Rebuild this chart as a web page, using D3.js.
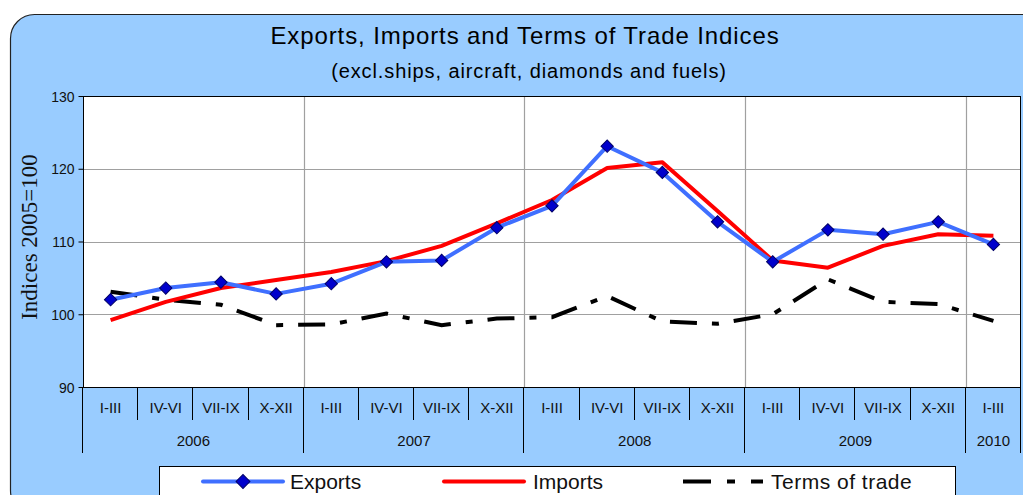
<!DOCTYPE html>
<html>
<head>
<meta charset="utf-8">
<script src="https://cdn.jsdelivr.net/npm/d3@7"></script>
<style>
  body { margin: 0; background: #fff; }
  svg text { font-family: "Liberation Sans", Arial, sans-serif; }
</style>
</head>
<body>
<svg id="chart" width="1023" height="495"></svg>
<script>
// quarter labels and the year each quarter belongs to
const quarters = ['I-III', 'IV-VI', 'VII-IX', 'X-XII', 'I-III', 'IV-VI', 'VII-IX', 'X-XII',
  'I-III', 'IV-VI', 'VII-IX', 'X-XII', 'I-III', 'IV-VI', 'VII-IX', 'X-XII', 'I-III'];
const years = ['2006', '2006', '2006', '2006', '2007', '2007', '2007', '2007',
  '2008', '2008', '2008', '2008', '2009', '2009', '2009', '2009', '2010'];

// indices, 2005=100
const exportsIdx = [102.0, 103.6, 104.4, 102.8, 104.2, 107.2, 107.4, 111.9,
  114.9, 123.1, 119.5, 112.7, 107.2, 111.6, 111.0, 112.7, 109.6];
const importsIdx = [99.2, 101.7, 103.6, 104.7, 105.8, 107.3, 109.4, 112.5,
  115.7, 120.1, 120.9, 114.2, 107.4, 106.4, 109.4, 111.0, 110.8];
const termsIdx = [103.1, 102.0, 101.3, 98.5, 98.6, 100.1, 98.5, 99.4,
  99.6, 102.5, 99.0, 98.7, 100.0, 104.8, 101.7, 101.4, 99.1];

const yTicks = [90, 100, 110, 120, 130];

const svg = d3.select('#chart');
const plot = { left: 83, right: 1021, top: 96, bottom: 387 };

const keys = quarters.map((q, i) => i);
const x = d3.scaleBand().domain(keys).range([plot.left, plot.right]).padding(0);
const xc = i => x(i) + x.bandwidth() / 2;
const y = d3.scaleLinear().domain([90, 130]).range([plot.bottom, plot.top]);

// outer rounded frame
svg.append('rect')
  .attr('x', 10.5).attr('y', 14.5)
  .attr('width', 1040).attr('height', 500)
  .attr('rx', 24).attr('ry', 24)
  .attr('fill', '#99ccff')
  .attr('stroke', '#222')
  .attr('stroke-width', 1.2);

// titles
svg.append('text')
  .attr('x', 525).attr('y', 44)
  .attr('text-anchor', 'middle')
  .attr('font-size', 24)
  .attr('letter-spacing', 0.9)
  .attr('fill', '#000')
  .text('Exports, Imports and Terms of Trade Indices');

svg.append('text')
  .attr('x', 529).attr('y', 78)
  .attr('text-anchor', 'middle')
  .attr('font-size', 20)
  .attr('letter-spacing', 0.9)
  .attr('fill', '#000')
  .text('(excl.ships, aircraft, diamonds and fuels)');

// plot area
svg.append('rect')
  .attr('x', plot.left).attr('y', plot.top)
  .attr('width', plot.right - plot.left).attr('height', plot.bottom - plot.top)
  .attr('fill', '#fff');

// horizontal grid
svg.append('g').selectAll('line')
  .data(yTicks.filter(t => t > 90 && t < 130)).join('line')
  .attr('x1', plot.left).attr('x2', plot.right)
  .attr('y1', d => Math.round(y(d)) + 0.5).attr('y2', d => Math.round(y(d)) + 0.5)
  .attr('stroke', '#a0a0a0').attr('stroke-width', 1.2);

// year boundaries
const yearStarts = keys.filter(i => i > 0 && years[i] !== years[i - 1]);
svg.append('g').selectAll('line')
  .data(yearStarts).join('line')
  .attr('x1', d => Math.round(x(d)) + 0.5).attr('x2', d => Math.round(x(d)) + 0.5)
  .attr('y1', plot.top).attr('y2', plot.bottom)
  .attr('stroke', '#a0a0a0').attr('stroke-width', 1.2);

// plot border
svg.append('rect')
  .attr('x', plot.left + 0.5).attr('y', plot.top + 0.5)
  .attr('width', plot.right - plot.left - 1).attr('height', plot.bottom - plot.top)
  .attr('fill', 'none')
  .attr('stroke', '#000');

// y axis
const yAxis = svg.append('g')
  .attr('transform', `translate(${plot.left + 0.5},0)`)
  .call(d3.axisLeft(y).tickValues(yTicks).tickSize(5).tickSizeOuter(0));
yAxis.select('.domain').remove();
yAxis.selectAll('line').attr('stroke', '#000');
yAxis.selectAll('text')
  .attr('font-family', '"Liberation Sans", Arial, sans-serif')
  .attr('font-size', 14)
  .attr('fill', '#111')
  .attr('x', -9)
  .attr('dy', '0.36em');

svg.append('text')
  .attr('transform', 'translate(37,237) rotate(-90)')
  .attr('text-anchor', 'middle')
  .style('font-family', '"Liberation Serif", "Times New Roman", serif')
  .attr('font-size', 23)
  .attr('fill', '#111')
  .text('Indices 2005=100');

// category axis: separators
const bounds = d3.range(0, keys.length + 1);
svg.append('g').selectAll('line')
  .data(bounds).join('line')
  .attr('x1', d => Math.round(d < keys.length ? x(d) : plot.right) - 0.5)
  .attr('x2', d => Math.round(d < keys.length ? x(d) : plot.right) - 0.5)
  .attr('y1', plot.bottom)
  .attr('y2', d => (d === 0 || d === keys.length || yearStarts.includes(d)) ? 453 : 420)
  .attr('stroke', '#000');

svg.append('g').selectAll('text')
  .data(keys).join('text')
  .attr('x', d => xc(d))
  .attr('y', 413)
  .attr('text-anchor', 'middle')
  .attr('font-size', 15)
  .attr('fill', '#111')
  .text(d => quarters[d]);

const yearGroups = d3.groups(keys, i => years[i]);
svg.append('g').selectAll('text')
  .data(yearGroups).join('text')
  .attr('x', d => (x(d[1][0]) + x(d[1][d[1].length - 1]) + x.bandwidth()) / 2)
  .attr('y', 446)
  .attr('text-anchor', 'middle')
  .attr('font-size', 15)
  .attr('fill', '#111')
  .text(d => d[0]);

// series
const line = vals => d3.line().x((d, i) => xc(i)).y(d => y(d))(vals);

svg.append('path')
  .attr('d', line(termsIdx))
  .attr('fill', 'none')
  .attr('stroke', '#000')
  .attr('stroke-width', 4)
  .attr('stroke-dasharray', '27,15,7,15');

svg.append('path')
  .attr('d', line(importsIdx))
  .attr('fill', 'none')
  .attr('stroke', '#ff0000')
  .attr('stroke-width', 4)
  .attr('stroke-linejoin', 'round');

svg.append('path')
  .attr('d', line(exportsIdx))
  .attr('fill', 'none')
  .attr('stroke', '#3f6fff')
  .attr('stroke-width', 4)
  .attr('stroke-linejoin', 'round');

const diamond = d3.symbol().type(d3.symbolSquare).size(76);
svg.append('g').selectAll('path')
  .data(exportsIdx).join('path')
  .attr('d', diamond)
  .attr('transform', (d, i) => `translate(${xc(i)},${y(d)}) rotate(45)`)
  .attr('fill', '#0000cc')
  .attr('stroke', '#000066')
  .attr('stroke-width', 1);

// legend
const legend = svg.append('g');
legend.append('rect')
  .attr('x', 159.5).attr('y', 466.5)
  .attr('width', 796).attr('height', 40)
  .attr('fill', '#fff')
  .attr('stroke', '#000');

const legendItems = [
  { name: 'Exports', x0: 203, color: '#3f6fff', dash: null, marker: true, tx: 290 },
  { name: 'Imports', x0: 444, color: '#ff0000', dash: null, marker: false, tx: 533 },
  { name: 'Terms of trade', x0: 683, color: '#000', dash: '28,16,8,16', marker: false, tx: 771 }
];
legendItems.forEach(it => {
  legend.append('line')
    .attr('x1', it.x0).attr('x2', it.x0 + 80)
    .attr('y1', 481.5).attr('y2', 481.5)
    .attr('stroke', it.color)
    .attr('stroke-width', 4)
    .attr('stroke-linecap', it.dash ? 'butt' : 'round')
    .attr('stroke-dasharray', it.dash);
  if (it.marker) {
    legend.append('path')
      .attr('d', d3.symbol().type(d3.symbolSquare).size(96)())
      .attr('transform', `translate(${it.x0 + 40},481.5) rotate(45)`)
      .attr('fill', '#0000cc')
      .attr('stroke', '#000066');
  }
  legend.append('text')
    .attr('x', it.tx).attr('y', 489)
    .attr('font-size', 21)
    .attr('letter-spacing', it.name === 'Terms of trade' ? 0.5 : 0)
    .attr('fill', '#111')
    .text(it.name);
});
</script>
</body>
</html>
